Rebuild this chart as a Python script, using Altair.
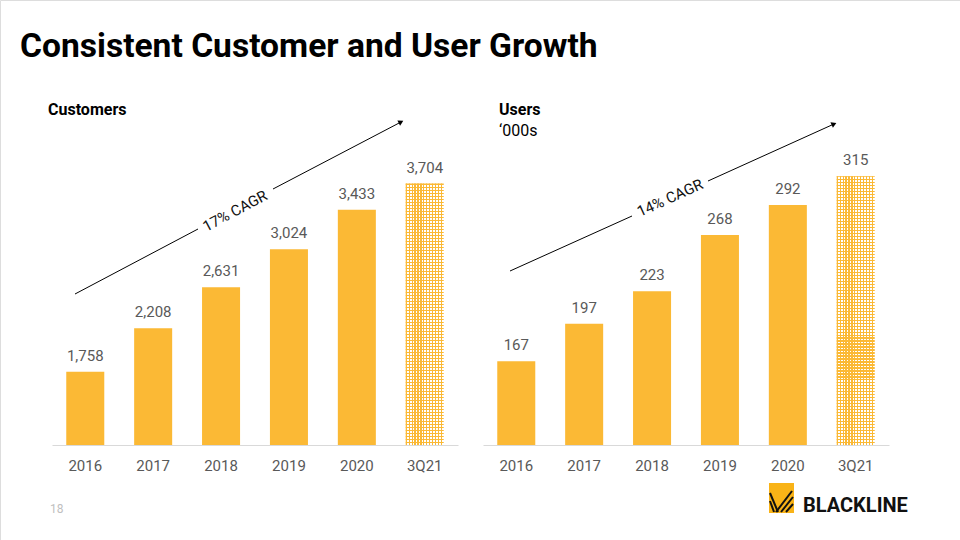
import altair as alt
import pandas as pd

# ---- data ----
periods = ["2016", "2017", "2018", "2019", "2020", "3Q21"]
customers = [1758, 2208, 2631, 3024, 3433, 3704]
users = [167, 197, 223, 268, 292, 315]
kinds = ["actual", "actual", "actual", "actual", "actual", "ytd"]

ORANGE = "#FBB935"
CLEAR = "rgba(251,185,53,0)"
GREY = "#595959"
FONT = "Roboto"


def stripes(n, frac, vertical):
    stops = []
    for i in range(n):
        a, b, c = i / n, (i + frac) / n, (i + 1) / n
        stops += [
            alt.GradientStop(color=ORANGE, offset=a),
            alt.GradientStop(color=ORANGE, offset=b),
            alt.GradientStop(color=CLEAR, offset=b),
            alt.GradientStop(color=CLEAR, offset=c),
        ]
    if vertical:
        return alt.LinearGradient(gradient="linear", stops=stops, x1=0, x2=0, y1=0, y2=1)
    return alt.LinearGradient(gradient="linear", stops=stops, x1=0, x2=1, y1=0, y2=0)


def panel(values, lo, hi, xrange, n_rows):
    df = pd.DataFrame({"period": periods, "value": values, "kind": kinds})
    x = alt.X(
        "period:N",
        sort=periods,
        scale=alt.Scale(range=xrange, paddingInner=0.44, paddingOuter=0.21),
        axis=alt.Axis(
            orient="bottom", title=None, labelAngle=0, ticks=False, tickSize=0, offset=-95,
            domainColor="#D9D9D9", domainWidth=1, labelColor=GREY, labelFont=FONT,
            labelFontSize=15, labelPadding=25, labelBaseline="alphabetic",
        ),
    )
    y = alt.Y("value:Q", scale=alt.Scale(domain=[lo, hi], zero=False, nice=False, range=[445, 155]), axis=None)
    base = alt.Chart(df).encode(x=x, y=y)
    solid = base.transform_filter(alt.datum.kind == "actual").mark_bar(color=ORANGE).encode(y2=alt.datum(lo))
    ytd = base.transform_filter(alt.datum.kind == "ytd")
    h1 = ytd.mark_bar(color=stripes(n_rows, 0.4, True)).encode(y2=alt.datum(lo))
    h2 = ytd.mark_bar(color=stripes(13, 0.4, False)).encode(y2=alt.datum(lo))
    labels = base.mark_text(dy=-11, baseline="alphabetic", fontSize=15, color=GREY, font=FONT).encode(
        text=alt.Text("value:Q", format=",")
    )
    return alt.layer(solid, h1, h2, labels)


one = alt.Data(values=[{"k": 1}])


def note(text, x, y, size, weight="normal", color="#000000", align="left", angle=0):
    return alt.Chart(one).mark_text(
        text=text, align=align, baseline="alphabetic", font=FONT, fontSize=size,
        fontWeight=weight, color=color, angle=angle,
    ).encode(x=alt.value(x), y=alt.value(y))


def seg(x1, y1, x2, y2, color="#000000", w=1):
    return alt.Chart(one).mark_rule(color=color, strokeWidth=w).encode(
        x=alt.value(x1), y=alt.value(y1), x2=alt.value(x2), y2=alt.value(y2)
    )


def head(x, y, angle):
    return alt.Chart(one).mark_point(shape="triangle-right", filled=True, size=35, color="#000000",
                                     angle=angle, opacity=1).encode(x=alt.value(x), y=alt.value(y))


def cagr(text, x, y, angle):
    return alt.Chart(one).mark_text(
        text=text, align="center", baseline="middle", font=FONT, fontSize=15, color="#111111", angle=angle
    ).encode(x=alt.value(x), y=alt.value(y))


left = panel(customers, 1000, 4000, [52, 458], 87)
right = panel(users, 100, 332, [483, 889], 90)

notes = [
    note("Consistent Customer and User Growth", 20, 57, 33.6, "bold"),
    note("Customers", 48, 115, 16, "bold"),
    note("Users", 499, 115, 16, "bold"),
    note("\u2018000s", 499, 136, 16),
    note("18", 50, 513, 12, color="#BFBFBF"),
    # customers arrow
    seg(75, 294, 198, 229),
    seg(273, 189, 401, 122),
    head(401, 122, 332),
    cagr("17% CAGR", 235, 211, 332),
    # users arrow
    seg(510, 271, 632, 216),
    seg(708, 181, 834, 124),
    head(834, 124, 335.6),
    cagr("14% CAGR", 670, 198, 335.6),
    # logo
    alt.Chart(one).mark_rect(color="#F9B317").encode(
        x=alt.value(769), x2=alt.value(794), y=alt.value(483), y2=alt.value(513)
    ),
    seg(770, 493, 778, 512, "#111111", 2),
    seg(770, 501, 774, 512, "#111111", 2),
    seg(776, 512, 792, 491, "#111111", 2),
    seg(781, 512, 793, 497, "#111111", 2),
    seg(786, 512, 793, 504, "#111111", 2),
    note("BLACKLINE", 803, 512, 20, "bold", "#111111"),
]

chart = (
    alt.layer(left, right, *notes)
    .resolve_scale(x="independent", y="independent")
    .properties(width=960, height=540, padding=0, autosize=alt.AutoSizeParams(type="none"))
    .configure_view(strokeWidth=0)
    .configure(background="white")
)

chart.save("out.html", embed_options={"renderer": "svg", "actions": False})
